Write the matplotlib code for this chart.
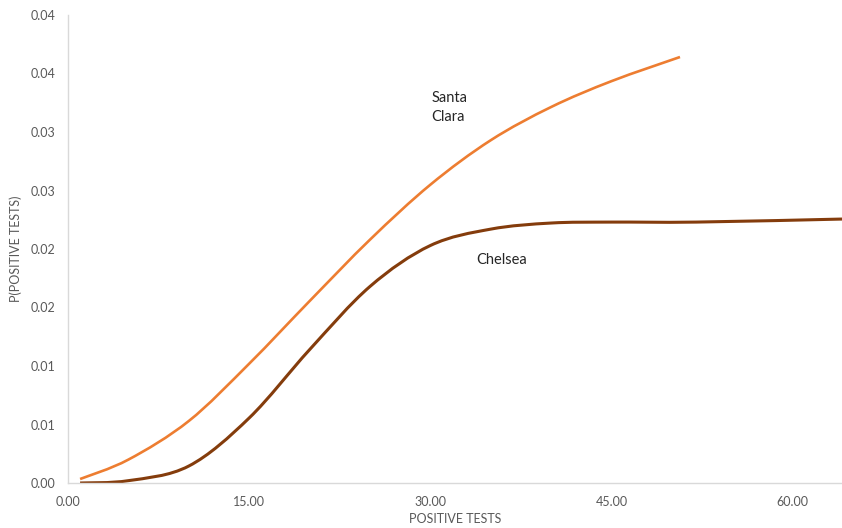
import matplotlib
matplotlib.use("Agg")
import matplotlib.pyplot as plt
from matplotlib.path import Path
from matplotlib.patches import PathPatch

# values
santa_x = [1, 5, 10, 15, 20, 25, 30, 35, 40, 45, 50.66]
santa_y = [0.00034, 0.00200, 0.00530, 0.01020, 0.01555, 0.02080, 0.02550, 0.02930, 0.03214, 0.03435, 0.03641]

chelsea_x = [1, 5, 10, 15, 20, 25, 30, 35, 40, 45, 52, 64.07]
chelsea_y = [0.0, 0.0002, 0.00145, 0.00556, 0.0114, 0.0168, 0.02030, 0.0217, 0.02222, 0.0223, 0.0223, 0.02256]

xticks = [0, 15, 30, 45, 60]
xtick_labels = ['0.00', '15.00', '30.00', '45.00', '60.00']
yticks = [0, 0.005, 0.01, 0.015, 0.02, 0.025, 0.03, 0.035, 0.04]
ytick_labels = ['0.00', '0.01', '0.01', '0.02', '0.02', '0.03', '0.03', '0.04', '0.04']

plt.rcParams['font.family'] = ['Lato', 'DejaVu Sans']


def smooth_line(ax, xs, ys, **kw):
    # Excel-style smoothed line: bezier segments through the data points
    pts = list(zip(xs, ys))
    verts = [pts[0]]
    codes = [Path.MOVETO]
    n = len(pts)
    for i in range(n - 1):
        p0 = pts[max(i - 1, 0)]
        p1 = pts[i]
        p2 = pts[i + 1]
        p3 = pts[min(i + 2, n - 1)]
        c1 = (p1[0] + (p2[0] - p0[0]) / 6, p1[1] + (p2[1] - p0[1]) / 6)
        c2 = (p2[0] - (p3[0] - p1[0]) / 6, p2[1] - (p3[1] - p1[1]) / 6)
        verts += [c1, c2, p2]
        codes += [Path.CURVE4] * 3
    ax.add_patch(PathPatch(Path(verts, codes), fill=False, **kw))


fig = plt.figure(figsize=(8.42, 5.28), dpi=100)
ax = fig.add_axes([68/842, 1 - 483/528, 1 - 68/842, (483 - 15)/528])

smooth_line(ax, santa_x, santa_y, edgecolor='#ED7D31', lw=1.9, capstyle='butt')
smooth_line(ax, chelsea_x, chelsea_y, edgecolor='#843C0C', lw=2.2, capstyle='butt')

ax.set_xlim(0, 64.07)
ax.set_ylim(0, 0.04)
ax.set_xticks(xticks)
ax.set_xticklabels(xtick_labels)
ax.set_yticks(yticks)
ax.set_yticklabels(ytick_labels)
ax.tick_params(length=0, labelsize=9, colors='#595959')
ax.tick_params(axis='x', pad=9)
ax.tick_params(axis='y', pad=9)

for s in ['top', 'right']:
    ax.spines[s].set_visible(False)
for s in ['left', 'bottom']:
    ax.spines[s].set_color('#d9d9d9')
    ax.spines[s].set_linewidth(1)

ax.set_xlabel('POSITIVE TESTS', fontsize=9, color='#595959', labelpad=4)
ax.set_ylabel('P(POSITIVE TESTS)', fontsize=9, color='#595959', labelpad=6)

ax.text(30.1, 0.0321, 'Santa\nClara', fontsize=10.5, color='#262626', va='center', linespacing=1.45)
ax.text(33.8, 0.0191, 'Chelsea', fontsize=10.5, color='#262626', va='center')

fig.savefig('out.png', dpi=100)
